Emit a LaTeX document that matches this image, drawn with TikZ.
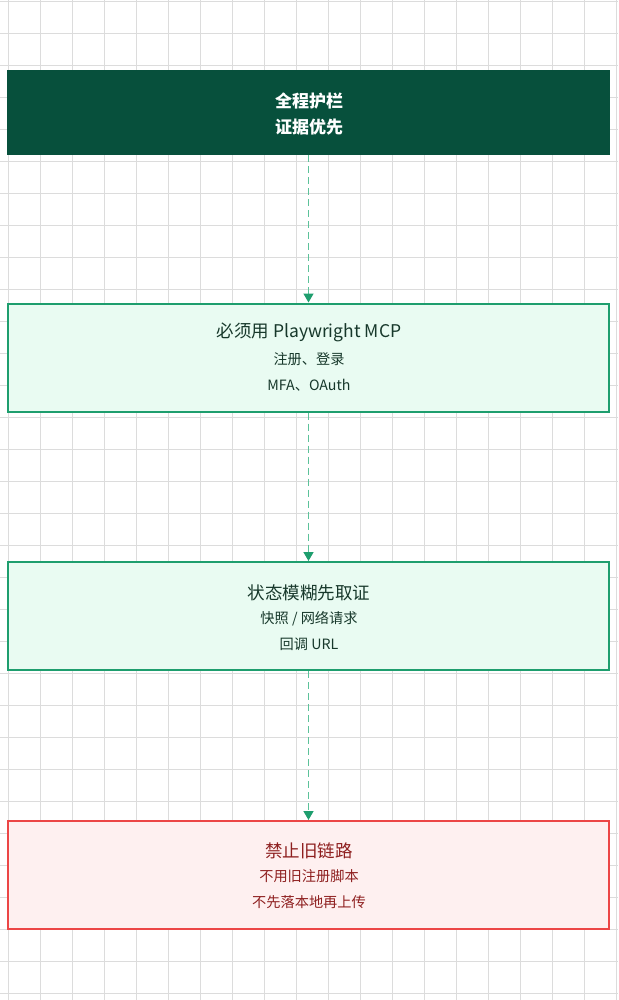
\documentclass[tikz,border=0pt]{standalone}
\usepackage{fontspec}
\setmainfont{Noto Sans CJK SC}
\usetikzlibrary{arrows.meta}
\definecolor{guardfill}{HTML}{07503C}
\definecolor{mintfill}{HTML}{E9FBF2}
\definecolor{mintline}{HTML}{1E9E6E}
\definecolor{dashline}{HTML}{5CC29A}
\definecolor{mintink}{HTML}{17382B}
\definecolor{warnfill}{HTML}{FEF0F0}
\definecolor{warnline}{HTML}{EC4646}
\definecolor{warnink}{HTML}{8E1F1F}
\definecolor{gridline}{HTML}{DCDCDC}
\begin{document}
\begin{tikzpicture}[x=1pt, y=-1pt,
    okbox/.style={draw=mintline, fill=mintfill, line width=2pt, minimum width=601pt, minimum height=108pt, inner sep=0pt},
    warnbox/.style={draw=warnline, fill=warnfill, line width=2pt, minimum width=601pt, minimum height=108pt, inner sep=0pt},
    title/.style={font=\fontsize{17.5}{19}\selectfont, inner sep=0pt},
    sub/.style={font=\fontsize{14.2}{16}\selectfont, inner sep=0pt},
    head/.style={text=white, font=\fontsize{17}{19}\selectfont\bfseries, inner sep=0pt},
    flow/.style={draw=dashline, line width=1.5pt, dash pattern=on 7pt off 4pt, -{Triangle[length=9pt, width=10pt, color=mintline, fill=mintline]}}]
    % background and grid
    \useasboundingbox (0,0) rectangle (618,1000);
    \fill[white] (0,0) rectangle (618,1000);
    \foreach \gx in {8,40,...,618} \draw[gridline, line width=0.8pt] (\gx,0) -- (\gx,1000);
    \foreach \gy in {1,33,...,1000} \draw[gridline, line width=0.8pt] (0,\gy) -- (618,\gy);
    % top bar
    \node[fill=guardfill, minimum width=603pt, minimum height=85pt, inner sep=0pt] (guard) at (308.5,112.5) {};
    \node[head] (g1) at (309,101.5) {全程护栏};
    \node[head] (g2) at (309,127.5) {证据优先};
    % boxes
    \node[okbox] (mcp) at (308.5,357.5) {};
    \node[title, text=mintink] (m1) at (309,332.5) {必须用 Playwright MCP};
    \node[sub, text=mintink] (m2) at (309,359.5) {注册、登录};
    \node[sub, text=mintink] (m3) at (309,385.5) {MFA、OAuth};
    \node[okbox] (proof) at (308.5,616) {};
    \node[title, text=mintink] (p1) at (309,592.5) {状态模糊先取证};
    \node[sub, text=mintink] (p2) at (309,618.5) {快照 / 网络请求};
    \node[sub, text=mintink] (p3) at (309,644.5) {回调 URL};
    \node[warnbox] (ban) at (308.5,875) {};
    \node[title, text=warnink] (b1) at (309,850.5) {禁止旧链路};
    \node[sub, text=warnink] (b2) at (309,876.5) {不用旧注册脚本};
    \node[sub, text=warnink] (b3) at (309,902.5) {不先落本地再上传};
    % arrows
    \draw[flow] (guard.south) -- (mcp.north);
    \draw[flow] (mcp.south) -- (proof.north);
    \draw[flow] (proof.south) -- (ban.north);
\end{tikzpicture}
\end{document}
